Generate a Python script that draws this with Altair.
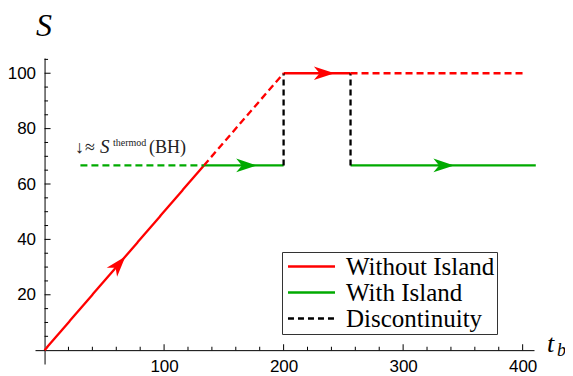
import math
import altair as alt
import pandas as pd

# ---------------- data ----------------
series_names = ["Without Island", "With Island", "Discontinuity"]
series_colors = ["#FF0000", "#00AA00", "#000000"]

# line segments (x0,y0) -> (x1,y1)
seg_series = ["Without Island", "Without Island", "Without Island", "Without Island",
              "With Island", "With Island", "With Island",
              "Discontinuity", "Discontinuity"]
seg_extended = [False, True, False, True, True, False, False, False, False]
seg_x0 = [0, 133.3, 200, 256, 30, 133.3, 256, 200, 256]
seg_y0 = [0, 66.7, 100, 100, 66.7, 66.7, 66.7, 66.7, 66.7]
seg_x1 = [133.3, 200, 256, 401, 133.3, 200, 411, 200, 256]
seg_y1 = [66.7, 100, 100, 100, 66.7, 66.7, 66.7, 100, 100]

# arrow heads
arrow_series = ["Without Island", "Without Island", "With Island", "With Island"]
arrow_x = [62, 234, 169, 334]
arrow_y = [31, 100, 66.7, 66.7]
arrow_slope = [0.5, 0, 0, 0]  # data slope of the line carrying each arrow

x_major = [100, 200, 300, 400]
x_minor = [20, 40, 60, 80, 120, 140, 160, 180, 220, 240, 260, 280, 320, 340, 360, 380]
y_major = [20, 40, 60, 80, 100]
y_minor = [5, 10, 15, 25, 30, 35, 45, 50, 55, 65, 70, 75, 85, 90, 95, 105]

annot_parts = ["↓", "≈", "S", "thermod", "(BH)"]

# ---------------- layout ----------------
W, H = 499, 306
xdom = [-8, 409.5]
ydom = [-5, 105.5]
kx = W / (xdom[1] - xdom[0])
ky = H / (ydom[1] - ydom[0])

xs = alt.Scale(domain=xdom, nice=False, zero=False)
ys = alt.Scale(domain=ydom, nice=False, zero=False)

rows = []
for i in range(len(seg_series)):
    for j, (xx, yy) in enumerate([(seg_x0[i], seg_y0[i]), (seg_x1[i], seg_y1[i])]):
        rows.append({"seg": i, "series": seg_series[i], "ext": seg_extended[i],
                     "x": xx, "y": yy, "o": j})
lines = pd.DataFrame(rows)

angles = []
for s in arrow_slope:
    a = math.degrees(math.atan2(s * ky, kx))
    angles.append((360 - a) % 360)
arrows = pd.DataFrame({"series": arrow_series, "x": arrow_x, "y": arrow_y, "angle": angles})

color_scale = alt.Scale(domain=series_names, range=series_colors)
dash_scale = alt.Scale(domain=series_names, range=[[1, 0], [1, 0], [6, 4]])

legend = alt.Legend(orient="none", legendX=247, legendY=194, title=None,
                    strokeColor="#333333", fillColor="white", padding=2,
                    symbolType="M-2.24,0H2.24", symbolSize=441, symbolStrokeWidth=2.5,
                    symbolOffset=15,
                    labelFont="Liberation Serif", labelFontSize=25, labelColor="black",
                    labelOffset=22, rowPadding=0, labelLimit=400)

x_axis = alt.Axis(values=x_major, ticks=False, grid=False, domainColor="black",
                  domainWidth=1, labelFont="Liberation Sans", labelFontSize=17,
                  labelColor="black", labelPadding=8, offset=-(0 - ydom[0]) * ky, title=None)
y_axis = alt.Axis(values=y_major, ticks=False, grid=False, domainColor="black",
                  domainWidth=1, labelFont="Liberation Sans", labelFontSize=17,
                  labelColor="black", labelPadding=9, offset=-(0 - xdom[0]) * kx, title=None)

X = lambda f: alt.X(f, scale=xs, axis=x_axis)
Y = lambda f: alt.Y(f, scale=ys, axis=y_axis)

solid = alt.Chart(lines).transform_filter("!datum.ext").mark_line(strokeWidth=2.3).encode(
    x=X("x:Q"), y=Y("y:Q"),
    color=alt.Color("series:N", scale=color_scale, legend=legend),
    strokeDash=alt.StrokeDash("series:N", scale=dash_scale, legend=legend),
    detail="seg:N",
    order="o:Q",
)
ext = alt.Chart(lines).transform_filter("datum.ext").mark_line(strokeWidth=2.3, strokeDash=[7, 4]).encode(
    x=X("x:Q"), y=Y("y:Q"),
    color=alt.Color("series:N", scale=color_scale, legend=legend),
    detail="seg:N",
    order="o:Q",
)
heads = alt.Chart(arrows).mark_point(
    shape="M1,0 L-1,-0.66 L-0.45,0 L-1,0.66 Z", filled=True, size=430, opacity=1, strokeWidth=0
).encode(
    x=X("x:Q"), y=Y("y:Q"),
    color=alt.Color("series:N", scale=color_scale, legend=legend),
    angle=alt.Angle("angle:Q", scale=None),
)

def tick_layer(vals, along, size):
    df = pd.DataFrame({"v": vals})
    if along == "x":
        return alt.Chart(df).mark_tick(orient="vertical", size=size, thickness=1,
                                       color="black", opacity=1, yOffset=-size / 2).encode(
            x=X("v:Q"), y=alt.datum(0, scale=ys, axis=y_axis))
    return alt.Chart(df).mark_tick(orient="horizontal", size=size, thickness=1,
                                   color="black", opacity=1, xOffset=size / 2).encode(
        y=Y("v:Q"), x=alt.datum(0, scale=xs, axis=x_axis))

ticks = [tick_layer(x_major, "x", 6), tick_layer(x_minor, "x", 3.5),
         tick_layer(y_major, "y", 6), tick_layer(y_minor, "y", 3.5)]

one = pd.DataFrame({"x": [25.5], "y": [71.25]})
def annot(txt, dx, dy, size, italic=False):
    return alt.Chart(one).mark_text(text=txt, align="left", baseline="alphabetic", dx=dx, dy=dy,
                                    font="Liberation Serif", fontSize=size, color="#222222",
                                    fontStyle="italic" if italic else "normal").encode(
        x=X("x:Q"), y=Y("y:Q"))

annots = [annot(annot_parts[0], 0, 0, 18), annot(annot_parts[1], 10, 0, 18),
          annot(annot_parts[2], 25, 0, 19, True), annot(annot_parts[3], 38, -7, 10),
          annot(annot_parts[4], 74, 0, 18)]

def title_text(txt, px, py, size):
    return alt.Chart(one).mark_text(text=txt, align="left", baseline="alphabetic",
                                    font="Liberation Serif", fontSize=size, fontStyle="italic",
                                    color="black").encode(x=alt.value(px), y=alt.value(py))

titles = [title_text("S", 1, -22, 32), title_text("t", 512, 294, 26), title_text("b", 522, 298, 18)]

chart = alt.layer(solid, ext, heads, *ticks, *annots, *titles).properties(
    width=W, height=H,
    autosize=alt.AutoSizeParams(type="none"),
    padding={"left": 27, "top": 50, "right": 31, "bottom": 12},
).configure_view(stroke=None)

chart.save("out.html", embed_options={"renderer": "svg", "actions": False})
